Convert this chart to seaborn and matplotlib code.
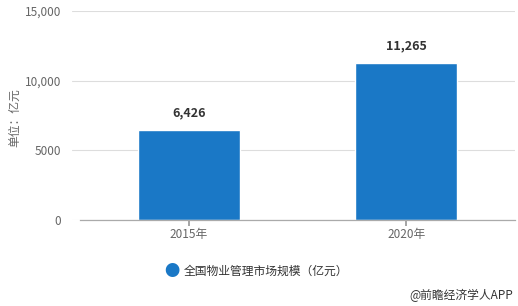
import matplotlib
matplotlib.use("Agg")
import matplotlib.pyplot as plt
import seaborn as sns
import pandas as pd

categories = ["2015年", "2020年"]
values = [6426, 11265]
value_labels = ["6,426", "11,265"]
yticks = [0, 5000, 10000, 15000]
ytick_labels = ["0", "5000", "10,000", "15,000"]
series_name = "全国物业管理市场规模（亿元）"
ylabel = "单位：亿元"
source = "@前瞻经济学人APP"

sns.set_theme(style="white")
plt.rcParams['font.family'] = ['Noto Sans CJK SC', 'DejaVu Sans']

bar_color = "#1A78C6"
df = pd.DataFrame({"year": categories, "value": values})

fig = plt.figure(figsize=(5.18, 3.06), dpi=100)
ax = fig.add_axes([0.139, 0.281, 0.855, 0.683])
sns.barplot(data=df, x="year", y="value", color=bar_color, width=0.47,
            saturation=1, ax=ax)

ax.set_ylim(0, 15000)
ax.set_xlim(-0.537, 1.5)
ax.set_yticks(yticks)
ax.set_yticklabels(ytick_labels, color="#666666", fontsize=8.5)
ax.tick_params(axis="y", length=0, pad=8)
ax.tick_params(axis="x", length=4, color="#999999", pad=2, labelsize=8.5,
               labelcolor="#666666", bottom=True, direction="out")
ax.yaxis.grid(True, color="#DDDDDD", linewidth=0.8)
ax.set_axisbelow(True)
for s in ["top", "right", "left"]:
    ax.spines[s].set_visible(False)
ax.spines["bottom"].set_color("#AAAAAA")
ax.spines["bottom"].set_linewidth(0.9)
ax.spines["bottom"].set_bounds(-0.5, 1.5)
ax.set_xlabel("")
ax.set_ylabel("")
fig.text(0.029, 0.615, ylabel, color="#666666", fontsize=8.5, rotation=90,
         ha="center", va="center")

for i, (v, lab) in enumerate(zip(values, value_labels)):
    ax.annotate(lab, (i, v), xytext=(0, 8), textcoords="offset points",
                ha="center", va="bottom", fontsize=9, fontweight="bold",
                color="#333333")

fig.text(0.332, 0.112, "●", color=bar_color, fontsize=11, ha="center", va="center")
fig.text(0.355, 0.112, series_name, color="#333333", fontsize=8.5, ha="left", va="center")
fig.text(0.99, 0.035, source, color="#333333", fontsize=8.5, ha="right", va="center")

fig.savefig("out.png", dpi=100)
